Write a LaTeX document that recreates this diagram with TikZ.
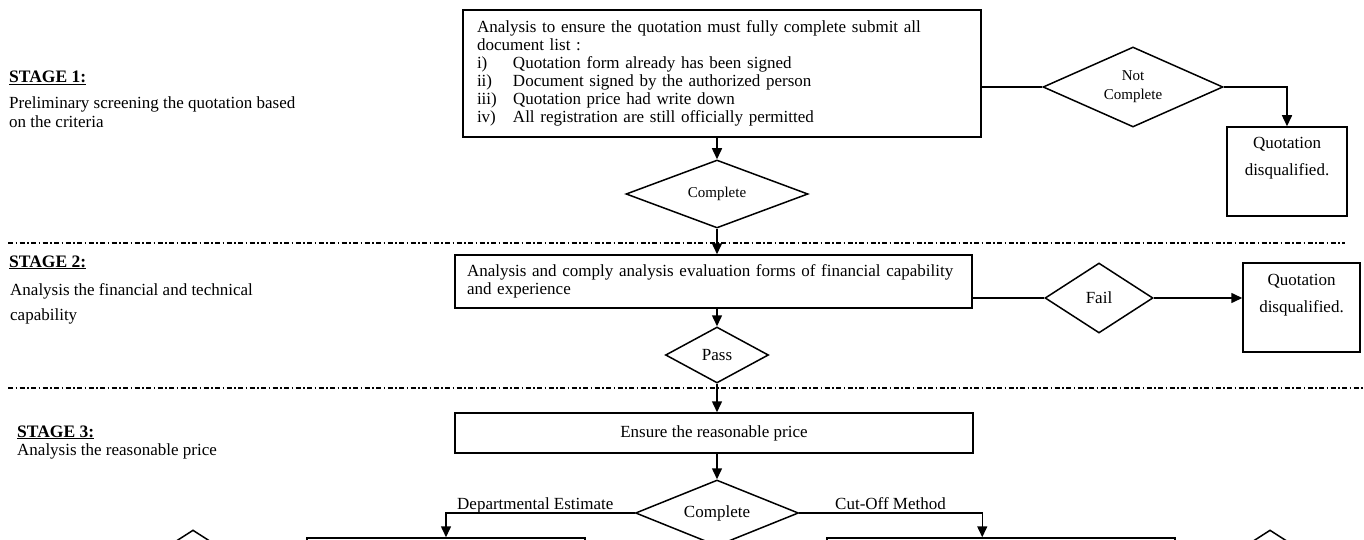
\documentclass[tikz,border=0pt]{standalone}
\usepackage{fontspec}
\setmainfont{Liberation Serif}
\usetikzlibrary{shapes.geometric,arrows.meta,calc}
\begin{document}
\begin{tikzpicture}[x=1pt,y=-1pt,
  every node/.style={font=\fontsize{17}{18}\selectfont},
  boxnode/.style={draw,line width=1.5pt,rectangle,inner sep=0pt},
  dia/.style={draw,line width=1.5pt,shape=diamond,inner sep=0pt},
  conn/.style={line width=1.5pt},
  arr/.style={conn,-{Triangle[width=10pt,length=11pt]}},
  sepline/.style={line width=1.3pt,dash pattern=on 5pt off 2.5pt on 1.5pt off 2.5pt},
  stagehead/.style={anchor=base west,inner sep=0pt,font=\fontsize{17.5}{18}\selectfont\bfseries},
  stagetext/.style={anchor=base west,inner sep=0pt},
  dqlabel/.style={anchor=north,inner sep=0pt,align=center,font=\fontsize{17}{27}\selectfont},
  edgelabel/.style={anchor=base west,inner sep=0pt}
]
\useasboundingbox (0,0) rectangle (1364,540);
\clip (0,0) rectangle (1364,540);

% stage separators
\coordinate (s1a) at (8,243); \coordinate (s1b) at (1345,243);
\draw[sepline] (s1a) -- (s1b);
\coordinate (s2a) at (8,388); \coordinate (s2b) at (1364,388);
\draw[sepline] (s2a) -- (s2b);

% stage labels
\node[stagehead] (st1) at (9,83) {\underline{STAGE 1:}};
\node[stagetext] (st1a) at (9,109) {Preliminary screening the quotation based};
\node[stagetext] (st1b) at (9,128) {on the criteria};
\node[stagehead] (st2) at (9,267) {\underline{STAGE 2:}};
\node[stagetext] (st2a) at (10,295) {Analysis the financial and technical};
\node[stagetext] (st2b) at (10,320) {capability};
\node[stagehead] (st3) at (17,437) {\underline{STAGE 3:}};
\node[stagetext] (st3a) at (17,455) {Analysis the reasonable price};

% stage 1
\node[boxnode, minimum width=518pt, minimum height=127pt, text width=490pt,
      inner xsep=14pt, align=left] (box1) at (722,73.5)
{\makebox[490pt][s]{Analysis to ensure the quotation must fully complete submit all}\\
document list :\\
\makebox[36pt][l]{i)}Quotation form already has been signed\\
\makebox[36pt][l]{ii)}Document signed by the authorized person\\
\makebox[36pt][l]{iii)}Quotation price had write down\\
\makebox[36pt][l]{iv)}All registration are still officially permitted};

\node[dia, minimum width=182pt, minimum height=68pt, aspect=2.7,
      font=\fontsize{15}{18}\selectfont] (cmp1) at (717,194) {Complete};
\node[dia, minimum width=180pt, minimum height=80pt, aspect=2.25, align=center,
      font=\fontsize{15}{19}\selectfont] (notc) at (1133,87) {Not\\Complete};
\node[boxnode, minimum width=120pt, minimum height=89pt,
      label={[dqlabel,yshift=-11pt]north:Quotation\\disqualified.}] (dq1) at (1287,171.5) {};

\draw[arr] (cmp1.north |- box1.south) -- (cmp1.north);
\draw[conn] (notc.west -| box1.east) -- (notc.west);
\draw[arr] (notc.east) -| (dq1.north);

% stage 2
\node[boxnode, minimum width=517pt, minimum height=53pt, text width=493pt,
      inner xsep=12pt, align=left] (box2) at (713.5,281.5)
{Analysis and comply analysis evaluation forms of financial capability\\
and experience};
\node[dia, minimum width=103pt, minimum height=56pt, aspect=1.85] (pass) at (717,355) {Pass};
\node[dia, minimum width=108pt, minimum height=70pt, aspect=1.55] (fail) at (1099,298) {Fail};
\node[boxnode, minimum width=117pt, minimum height=89pt,
      label={[dqlabel,yshift=-12pt]north:Quotation\\disqualified.}] (dq2) at (1301.5,307.5) {};

\draw[arr] (cmp1.south) -- (cmp1.south |- box2.north);
\draw[arr] (pass.north |- box2.south) -- (pass.north);
\draw[conn] (fail.west -| box2.east) -- (fail.west);
\draw[arr] (fail.east) -- (fail.east -| dq2.west);

% stage 3
\node[boxnode, minimum width=518pt, minimum height=40pt] (box3) at (714,433) {Ensure the reasonable price};
\node[dia, minimum width=163pt, minimum height=66pt, aspect=2.5] (cmp2) at (717,513) {Complete};

\draw[arr] (pass.south) -- (pass.south |- box3.north);
\draw[arr] (cmp2.north |- box3.south) -- (cmp2.north);

% partially visible shapes at the bottom edge
\node[boxnode, minimum width=278pt, minimum height=60pt] (lb) at (446,568) {};
\node[boxnode, minimum width=348pt, minimum height=60pt] (rb) at (1001,568) {};
\node[dia, minimum width=140pt, minimum height=90pt] (ld) at (193,575) {};
\node[dia, minimum width=140pt, minimum height=90pt] (rd) at (1270,575) {};

\draw[arr] (cmp2.west) -| (lb.north);
\node[edgelabel] (deptlbl) at (457,509) {Departmental Estimate};
\draw[arr] (cmp2.east) -| ($(rb.north west)+(156,0)$);
\node[edgelabel] (cutlbl) at (835,509) {Cut-Off Method};
\end{tikzpicture}
\end{document}
